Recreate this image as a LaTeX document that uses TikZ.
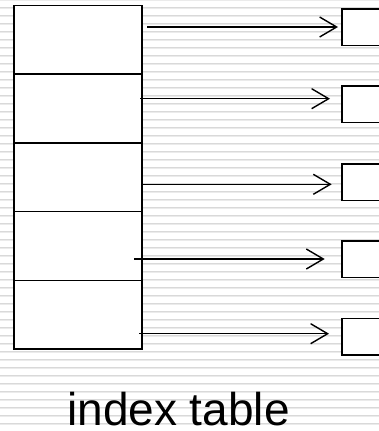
\documentclass[tikz,border=0pt]{standalone}
\usepackage{fontspec}
\setmainfont{Liberation Sans}
\usetikzlibrary{arrows.meta}
\begin{document}
\begin{tikzpicture}[x=1pt,y=-1pt,
  cell/.style={draw=black,fill=white,line width=1.6pt,minimum width=128pt,minimum height=68.7pt,inner sep=0pt,outer sep=0pt},
  target/.style={draw=black,fill=white,line width=1.6pt,minimum width=50pt,minimum height=36.5pt,inner sep=0pt,outer sep=0pt,anchor=north west},
  link/.style={line width=1.4pt,-{Straight Barb[length=17pt,width=20pt,line width=1.4pt]}},
  stripedark/.style={fill=black!15},
  stripelight/.style={fill=black!8}]
\useasboundingbox (0,0) rectangle (379,431);
\clip (0,0) rectangle (379,431);
% ruled background
\fill[white] (0,0) rectangle (379,431);
\foreach \k in {0,...,54}{
  \fill[stripedark] (0,8*\k-1) rectangle (379,8*\k);
  \fill[stripelight] (0,8*\k) rectangle (379,8*\k+1);
}
% index table cells
\node[cell] (c1) at (78,39.9) {};
\node[cell] (c2) at (78,108.6) {};
\node[cell] (c3) at (78,177.3) {};
\node[cell] (c4) at (78,246.0) {};
\node[cell] (c5) at (78,314.7) {};
% target records
\node[target] (b1) at (341.7,9) {};
\node[target] (b2) at (341.7,86) {};
\node[target] (b3) at (341.7,164) {};
\node[target] (b4) at (341.7,241) {};
\node[target] (b5) at (341.7,318.5) {};
% pointer start points
\coordinate (s1) at (147,27);
\coordinate (s2) at (140,98.7);
\coordinate (s3) at (142,184.3);
\coordinate (s4) at (134,259);
\coordinate (s5) at (139,333.7);
% pointers
\draw[link] (s1) -- ([xshift=-3.7pt]b1.west |- s1);
\draw[link] (s2) -- ([xshift=-11.7pt]b2.west |- s2);
\draw[link] (s3) -- ([xshift=-10pt]b3.west |- s3);
\draw[link] (s4) -- ([xshift=-17pt]b4.west |- s4);
\draw[link] (s5) -- ([xshift=-12.7pt]b5.west |- s5);
% caption
\node[anchor=base,inner sep=0pt,text depth=0pt] (cap) at (178.5,425) {\fontsize{46}{50}\selectfont index table};
\end{tikzpicture}
\end{document}
